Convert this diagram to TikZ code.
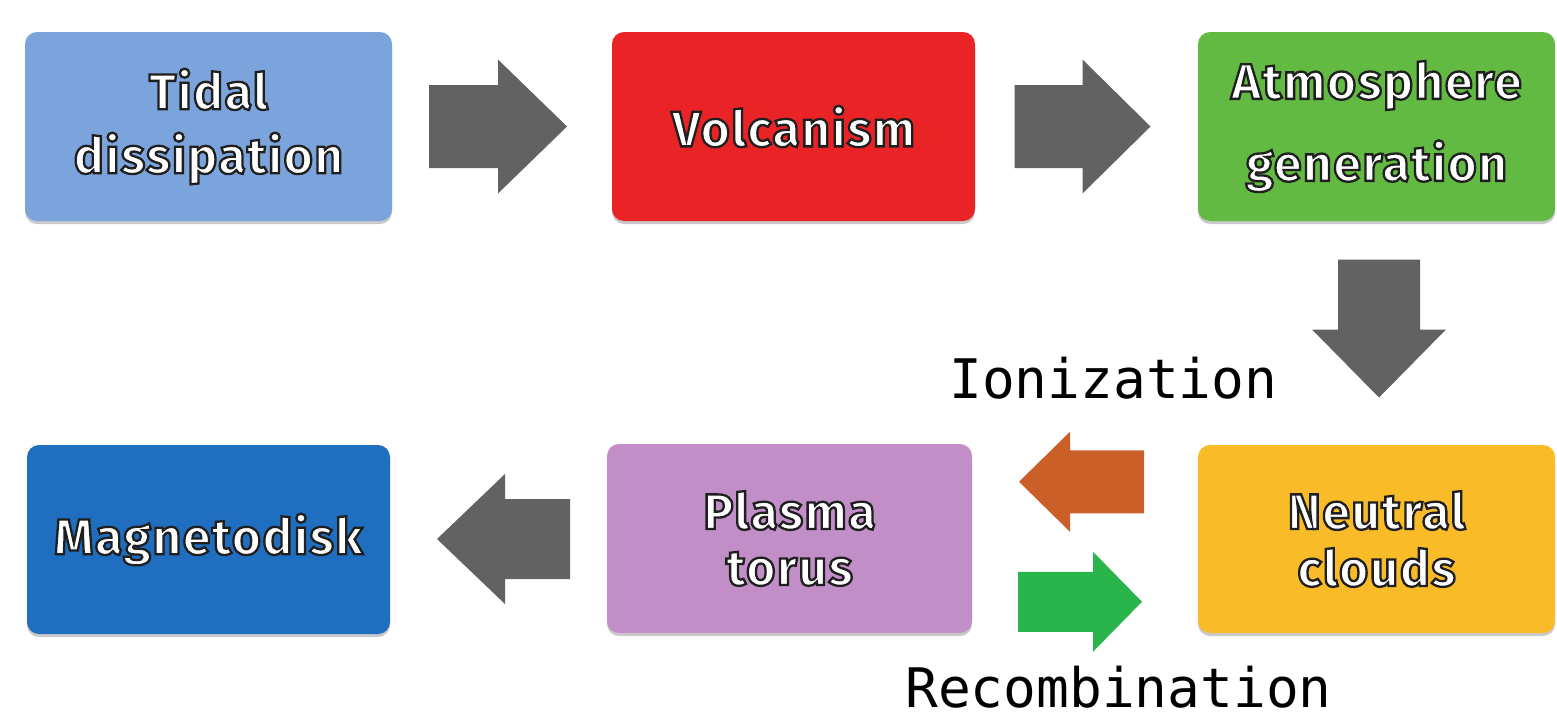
\documentclass[tikz,border=0pt]{standalone}
\usepackage{fontspec}
\setmainfont{Fira Sans}[LetterSpace=3]
\newfontfamily\labelmono{DejaVu Sans Mono}
\usetikzlibrary{calc,shadows}
\definecolor{ctidal}{RGB}{124,164,220}
\definecolor{cvolc}{RGB}{234,36,38}
\definecolor{catm}{RGB}{98,186,66}
\definecolor{cneut}{RGB}{249,187,40}
\definecolor{cplas}{RGB}{194,142,200}
\definecolor{cmagn}{RGB}{32,110,192}
\definecolor{cgray}{RGB}{98,98,98}
\definecolor{corange}{RGB}{202,96,40}
\definecolor{cgreen}{RGB}{42,180,76}
% outlined text: fill (white) then stroke (dark) in one text object
\newcommand\ot[1]{\special{pdf:literal direct 2 Tr 2.3 w 0.12 G}#1}
% block arrow: #1 centre, #2 angle, #3 colour, #4 length, #5 head width, #6 body width, #7 head length
\newcommand\blockarrow[7]{%
  \begin{scope}[shift={(#1)}, rotate=#2]
    \fill[#3] ({-#4/2},{-#6/2}) -- ({#4/2-#7},{-#6/2}) -- ({#4/2-#7},{-#5/2})
      -- ({#4/2},0) -- ({#4/2-#7},{#5/2}) -- ({#4/2-#7},{#6/2}) -- ({-#4/2},{#6/2}) -- cycle;
  \end{scope}}
\tikzset{
  box/.style={rectangle, rounded corners=12pt, inner sep=0pt, text=white,
    font=\bfseries\fontsize{50}{64}\selectfont, align=center,
    drop shadow={shadow xshift=0pt, shadow yshift=-3pt, opacity=0.35, fill=black!60}},
  lbl/.style={inner sep=0pt, font=\labelmono\fontsize{54.5}{60}\selectfont, text=black}
}
\begin{document}
\begin{tikzpicture}[x=1pt, y=-1pt]
\useasboundingbox (0,0) rectangle (1557,718);
\fill[white] (0,0) rectangle (1557,718);
% boxes
\node[box, fill=ctidal, minimum width=367pt, minimum height=189pt] (tidal) at (208.5,126.5) {\ot{Tidal}\\\ot{dissipation}};
\node[box, fill=cvolc, minimum width=363pt, minimum height=189pt] (volc) at (793.5,126.5) {\ot{Volcanism}};
\node[box, fill=catm, minimum width=357pt, minimum height=189pt] (atm) at (1376.5,126.5) {\ot{Atmosphere}\\[18pt]\ot{generation}};
\node[box, fill=cneut, minimum width=357pt, minimum height=188pt] (neut) at (1376.5,539) {\ot{Neutral}\\[-7pt]\ot{clouds}};
\node[box, fill=cplas, minimum width=365pt, minimum height=189pt] (plas) at (789.5,538.5) {\ot{Plasma}\\[-8pt]\ot{torus}};
\node[box, fill=cmagn, minimum width=363pt, minimum height=189pt] (magn) at (208.5,539.5) {\ot{Magnetodisk}};
% arrow centres
\coordinate (a1) at ($(tidal.east)!0.5!(volc.west)+(-4,0)$);
\coordinate (a2) at ($(volc.east)!0.5!(atm.west)+(-4,0)$);
\coordinate (a3) at ($(atm.south)!0.5!(neut.north)+(2.5,-4.5)$);
\coordinate (a4) at ($(magn.east)!0.5!(plas.west)+(5,0)$);
\coordinate (a5) at ($(plas.east)!0.5!(neut.west)+(-3.5,-57)$);
\coordinate (a6) at ($(plas.east)!0.5!(neut.west)+(-5,63)$);
\blockarrow{a1}{0}{cgray}{138}{134}{83}{69}
\blockarrow{a2}{0}{cgray}{136}{134}{83}{68}
\blockarrow{a3}{-90}{cgray}{138}{134}{82}{68}
\blockarrow{a4}{180}{cgray}{133}{130}{80}{68}
\blockarrow{a5}{180}{corange}{125}{100}{63}{51}
\blockarrow{a6}{0}{cgreen}{124}{100}{60}{49}
% labels
\node[lbl, anchor=base west] (ion) at (949,398) {Ionization};
\node[lbl, anchor=base west] (rec) at (905,707) {Recombination};
\end{tikzpicture}
\end{document}
